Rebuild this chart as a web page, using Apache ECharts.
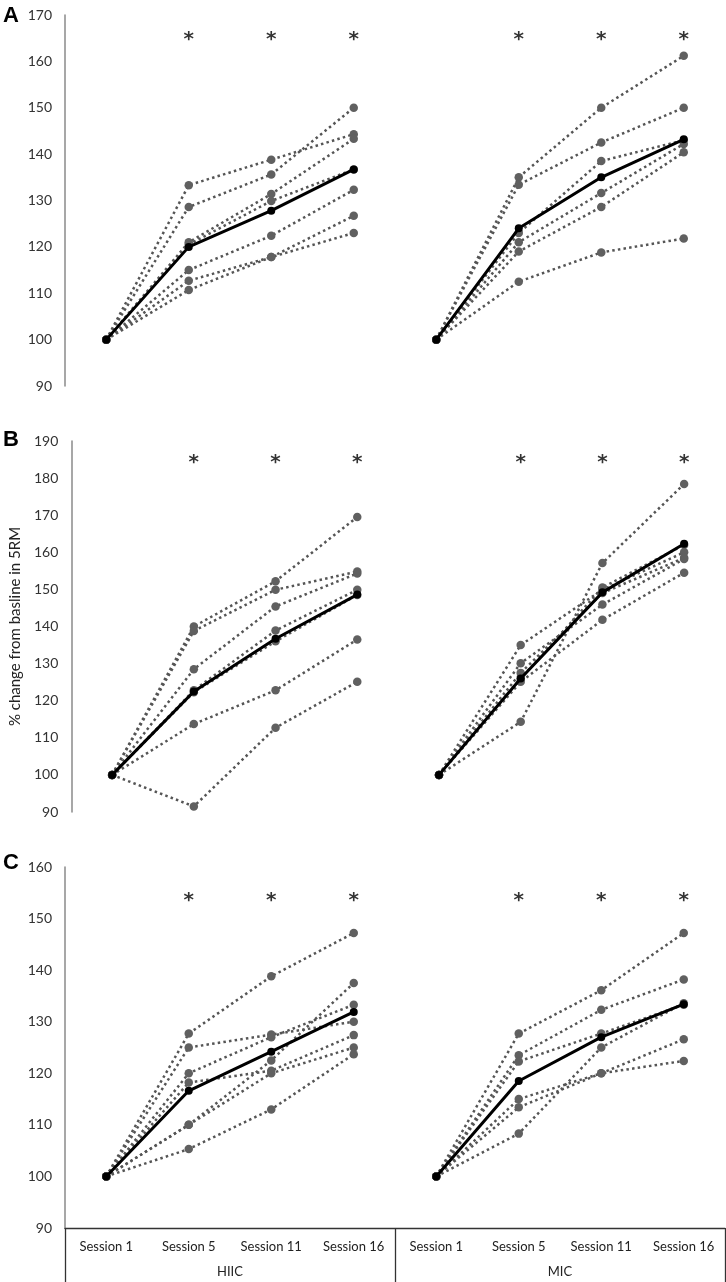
<!DOCTYPE html>
<html>
<head>
<meta charset="utf-8">
<script src="https://cdn.jsdelivr.net/npm/echarts@6/dist/echarts.min.js"></script>
<style>
  html, body { margin: 0; padding: 0; background: #fff; }
  #chart { width: 726px; height: 1282px; }
</style>
</head>
<body>
<div id="chart"></div>
<script>
// categories
var sessions = ['Session 1', 'Session 5', 'Session 11', 'Session 16',
                'Session 1', 'Session 5', 'Session 11', 'Session 16'];
var groups = ['HIIC', 'MIC'];

// panel A
var aHiic = [
  [100, 133.3, 138.8, 144.3],
  [100, 128.6, 135.6, 150],
  [100, 121, 131.4, 143.3],
  [100, 120.5, 129.9, 136.7],
  [100, 115, 122.4, 132.3],
  [100, 112.7, 117.8, 126.7],
  [100, 110.7, 117.8, 123]
];
var aHiicMean = [100, 120, 127.8, 136.7];
var aMic = [
  [100, 135, 150, 161.2],
  [100, 133.4, 142.5, 150],
  [100, 123, 138.5, 143],
  [100, 121, 131.6, 142.2],
  [100, 119, 128.6, 140.4],
  [100, 112.5, 118.8, 121.8]
];
var aMicMean = [100, 124, 135, 143.2];

// panel B
var bHiic = [
  [100, 140, 152.2, 169.5],
  [100, 138.8, 149.9, 154.8],
  [100, 128.5, 145.4, 154.3],
  [100, 122.8, 138.9, 149.9],
  [100, 122.3, 136, 148.5],
  [100, 113.7, 122.8, 136.5],
  [100, 91.5, 112.7, 125.1]
];
var bHiicMean = [100, 122.5, 136.7, 148.6];
var bMic = [
  [100, 135, 149.9, 160],
  [100, 130.1, 145.9, 158.2],
  [100, 127.5, 149, 158.5],
  [100, 125.1, 141.8, 154.5],
  [100, 114.3, 157.1, 178.4],
  [100, 126, 150.5, 162]
];
var bMicMean = [100, 126, 149.2, 162.3];

// panel C
var cHiic = [
  [100, 127.7, 138.8, 147.2],
  [100, 125, 127.5, 130],
  [100, 120, 127, 133.3],
  [100, 118.2, 120.5, 127.4],
  [100, 110, 122.5, 137.5],
  [100, 110, 120, 125],
  [100, 105.3, 113, 123.7]
];
var cHiicMean = [100, 116.6, 124.2, 131.9];
var cMic = [
  [100, 127.7, 136.1, 147.2],
  [100, 123.5, 132.3, 138.2],
  [100, 122.3, 127.7, 133.3],
  [100, 115, 120, 126.6],
  [100, 113.4, 120, 122.4],
  [100, 108.3, 125, 133.6]
];
var cMicMean = [100, 118.5, 127, 133.4];

// axis ranges and significance markers
var yMin = [90, 90, 90];
var yMax = [170, 190, 160];
var starIdx = [1, 2, 3, 5, 6, 7];
var starLevel = [164.7, 184.1, 153.4];

var chart = echarts.init(document.getElementById('chart'));
var font = 'Lato, "Open Sans", sans-serif';

function place(vals, group) {
  var out = ['-', '-', '-', '-', '-', '-', '-', '-'];
  var off = group === 0 ? 0 : 4;
  for (var i = 0; i < vals.length; i++) out[off + i] = vals[i];
  return out;
}

var series = [];
function addPanel(p, hiic, hiicMean, mic, micMean) {
  [[hiic, hiicMean], [mic, micMean]].forEach(function (pair, g) {
    pair[0].forEach(function (row) {
      series.push({
        type: 'line', xAxisIndex: p, yAxisIndex: p,
        data: place(row, g),
        symbol: 'circle', symbolSize: 8.5,
        itemStyle: { color: '#606060' },
        lineStyle: { color: '#555', width: 2.5, type: [2.5, 3.2] },
        silent: true, z: 2
      });
    });
    series.push({
      type: 'line', xAxisIndex: p, yAxisIndex: p,
      data: place(pair[1], g),
      symbol: 'circle', symbolSize: 8,
      itemStyle: { color: '#000' },
      lineStyle: { color: '#000', width: 3 },
      silent: true, z: 5
    });
  });
  series.push({
    type: 'scatter', xAxisIndex: p, yAxisIndex: p,
    data: starIdx.map(function (i) { return [i, starLevel[p]]; }),
    symbolSize: 1, itemStyle: { color: 'rgba(0,0,0,0)' },
    label: { show: true, position: 'inside', formatter: '*', fontSize: 20,
             fontWeight: 'bold', color: '#000', fontFamily: 'DejaVu Sans' },
    silent: true, z: 6
  });
}
addPanel(0, aHiic, aHiicMean, aMic, aMicMean);
addPanel(1, bHiic, bHiicMean, bMic, bMicMean);
addPanel(2, cHiic, cHiicMean, cMic, cMicMean);

var grids = [
  { left: 65, width: 660, top: 15, height: 371 },
  { left: 65, width: 660, top: 441, height: 371 },
  { left: 65, width: 660, top: 867, height: 361 }
];

function hiddenX(i) {
  return {
    type: 'category', gridIndex: i, data: sessions, boundaryGap: true,
    axisLine: { show: false }, axisTick: { show: false }, axisLabel: { show: false }
  };
}

var xAxes = [hiddenX(0), hiddenX(1),
  {
    type: 'category', gridIndex: 2, data: sessions, boundaryGap: true,
    axisLine: { show: true, lineStyle: { color: '#333', width: 1.3 } },
    axisTick: { show: false },
    axisLabel: { interval: 0, margin: 12, fontSize: 13, color: '#222', fontFamily: font }
  },
  {
    type: 'category', gridIndex: 2, data: groups, boundaryGap: true, position: 'bottom',
    axisLine: { show: false },
    axisTick: { show: true, length: 56, interval: 0, lineStyle: { color: '#333', width: 1.3 } },
    axisLabel: { interval: 0, margin: 37, fontSize: 13, color: '#222', fontFamily: font }
  }
];

var yAxes = [0, 1, 2].map(function (i) {
  return {
    type: 'value', gridIndex: i, min: yMin[i], max: yMax[i], interval: 10,
    splitLine: { show: false },
    axisLine: { show: true, lineStyle: { color: '#8a8a8a', width: 1.5 } },
    axisTick: { show: false },
    axisLabel: { margin: 13, fontSize: 14, color: '#333', fontFamily: font },
    name: i === 1 ? '% change from basline in 5RM' : '',
    nameLocation: 'middle', nameGap: 42, nameRotate: 90,
    nameTextStyle: { fontSize: 15, color: '#222', fontFamily: font }
  };
});

var letters = [['A', 5], ['B', 429], ['C', 852]].map(function (l) {
  return {
    type: 'text', left: 3, top: l[1],
    style: { text: l[0], font: 'bold 22px "Liberation Sans", Arial, sans-serif', fill: '#000' }
  };
});

chart.setOption({
  animation: false,
  grid: grids,
  xAxis: xAxes,
  yAxis: yAxes,
  graphic: letters,
  series: series
});
</script>
</body>
</html>
